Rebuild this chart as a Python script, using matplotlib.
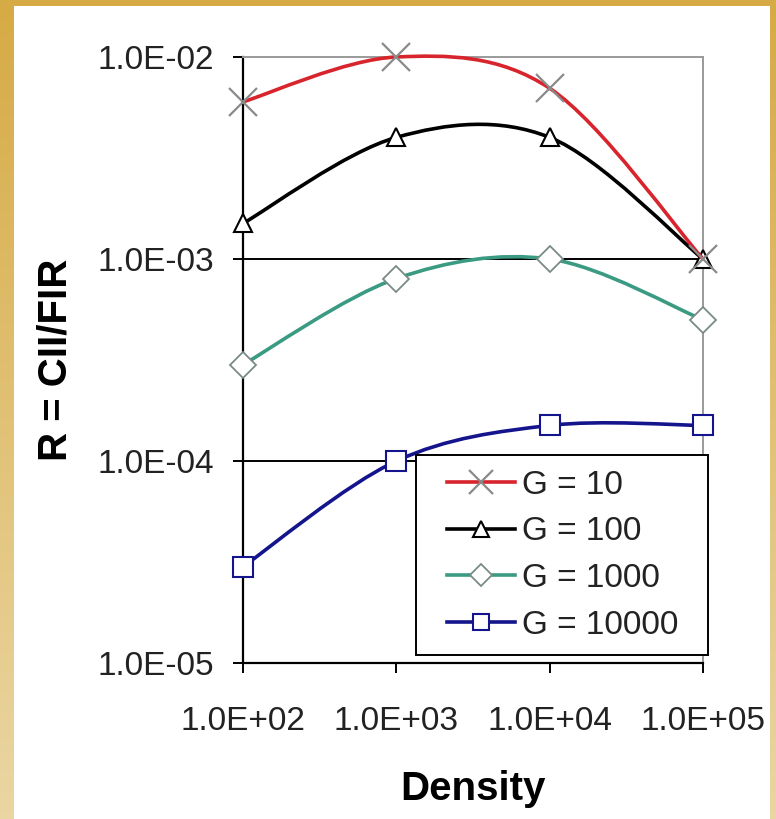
import numpy as np
import matplotlib.pyplot as plt
from matplotlib.path import Path
from matplotlib.patches import PathPatch, Rectangle
from matplotlib.lines import Line2D

plt.rcParams['font.family'] = ['Liberation Sans', 'DejaVu Sans']

# Density grid and CII/FIR ratio for each G
density = [1e2, 1e3, 1e4, 1e5]
g_labels = ['G = 10', 'G = 100', 'G = 1000', 'G = 10000']
r_g10 = [6.0e-3, 1.0e-2, 7.0e-3, 1.0e-3]
r_g100 = [1.5e-3, 4.0e-3, 4.0e-3, 1.0e-3]
r_g1000 = [3.0e-4, 8.0e-4, 1.0e-3, 5.0e-4]
r_g10000 = [3.0e-5, 1.0e-4, 1.5e-4, 1.5e-4]

x_ticks = [1e2, 1e3, 1e4, 1e5]
x_ticklabels = ['1.0E+02', '1.0E+03', '1.0E+04', '1.0E+05']
y_ticks = [1e-5, 1e-4, 1e-3, 1e-2]
y_ticklabels = ['1.0E-05', '1.0E-04', '1.0E-03', '1.0E-02']

styles = [
    dict(color='#d8242c', marker='x', mec='#8a8a8a', ms=20, mew=1.6, z=6),
    dict(color='#000000', marker='^', mec='#000000', ms=13, mew=1.5, z=5),
    dict(color='#3a9a82', marker='D', mec='#7a8a86', ms=13, mew=1.3, z=4),
    dict(color='#14148c', marker='s', mec='#14148c', ms=14, mew=1.5, z=3),
]

W, H = 776, 819


def smooth_path(xs, ys):
    """Catmull-Rom style bezier through the points, built in log space."""
    lx, ly = np.log10(xs), np.log10(ys)
    n = len(lx)
    verts = [(lx[0], ly[0])]
    codes = [Path.MOVETO]
    for i in range(n - 1):
        p0 = max(i - 1, 0)
        p3 = min(i + 2, n - 1)
        c1 = (lx[i] + (lx[i + 1] - lx[p0]) / 6, ly[i] + (ly[i + 1] - ly[p0]) / 6)
        c2 = (lx[i + 1] - (lx[p3] - lx[i]) / 6, ly[i + 1] - (ly[p3] - ly[i]) / 6)
        verts += [c1, c2, (lx[i + 1], ly[i + 1])]
        codes += [Path.CURVE4] * 3
    verts = [(10 ** a, 10 ** b) for a, b in verts]
    return Path(verts, codes)


fig = plt.figure(figsize=(W / 100, H / 100), dpi=100)

# gold frame with a soft vertical gradient, white card on top
bg = fig.add_axes([0, 0, 1, 1], zorder=-10)
grad = np.linspace(0, 1, 256).reshape(-1, 1)
gold_top = np.array([0.84, 0.67, 0.27])
gold_bot = np.array([0.92, 0.84, 0.64])
img = gold_top[None, None, :] * (1 - grad[:, :, None]) + gold_bot[None, None, :] * grad[:, :, None]
bg.imshow(img, aspect='auto', extent=[0, 1, 0, 1])
bg.add_patch(Rectangle((14 / W, 0), (770 - 14) / W, 1 - 6 / H,
                       facecolor='white', edgecolor='none'))
bg.set_xlim(0, 1)
bg.set_ylim(0, 1)
bg.axis('off')

ax = fig.add_axes([243 / W, 1 - 663 / H, 460 / W, 606 / H])
ax.set_facecolor('none')
ax.set_xscale('log')
ax.set_yscale('log')
ax.set_xlim(1e2, 1e5)
ax.set_ylim(1e-5, 1e-2)

series = [r_g10, r_g100, r_g1000, r_g10000]
handles = []
for vals, st, lab in zip(series, styles, g_labels):
    patch = PathPatch(smooth_path(density, vals), facecolor='none',
                      edgecolor=st['color'], lw=2.6, zorder=st['z'], clip_on=False)
    ax.add_patch(patch)
    ax.plot(density, vals, linestyle='none', marker=st['marker'], ms=st['ms'],
            mfc='white' if st['marker'] != 'x' else 'none', mec=st['mec'],
            mew=st['mew'], zorder=st['z'] + 0.5, clip_on=False)
    handles.append(Line2D([0], [0], color=st['color'], lw=2.6, marker=st['marker'],
                          ms=st['ms'] * 0.85, mfc='white', mec=st['mec'],
                          mew=st['mew'], label=lab))

# horizontal gridlines at the inner decades
for yv in [1e-4, 1e-3]:
    ax.axhline(yv, color='black', lw=1.4, zorder=1)

for side in ['top', 'right']:
    ax.spines[side].set_color('#9a9a9a')
    ax.spines[side].set_linewidth(1.4)
for side in ['left', 'bottom']:
    ax.spines[side].set_color('black')
    ax.spines[side].set_linewidth(1.6)

ax.set_xticks(x_ticks)
ax.set_xticklabels(x_ticklabels)
ax.set_yticks(y_ticks)
ax.set_yticklabels(y_ticklabels)
ax.minorticks_off()
ax.tick_params(axis='both', direction='out', length=7, width=1.4,
               labelsize=24, labelcolor='#222222')
ax.tick_params(axis='y', pad=14)
ax.tick_params(axis='x', pad=24)

ax.set_xlabel('Density', fontsize=29, fontweight='bold', labelpad=24)
ax.set_ylabel('R = CII/FIR', fontsize=29, fontweight='bold', labelpad=16)

# legend box drawn separately so the side padding can be wider than the top
ax.add_patch(Rectangle((416 / W, 1 - 655 / H), (708 - 416) / W, (655 - 455) / H,
                       transform=fig.transFigure, facecolor='white',
                       edgecolor='black', lw=1.4, zorder=9, clip_on=False))

leg = ax.legend(handles=handles, loc='center left',
                bbox_to_anchor=(447 / W, 1 - 555 / H),
                bbox_transform=fig.transFigure,
                borderaxespad=0, borderpad=0, fontsize=24, frameon=False,
                handlelength=2.05, handletextpad=0.2, labelspacing=0.47)
leg.set_zorder(10)
for t in leg.get_texts():
    t.set_color('#222222')

fig.savefig('out.png', dpi=100)
